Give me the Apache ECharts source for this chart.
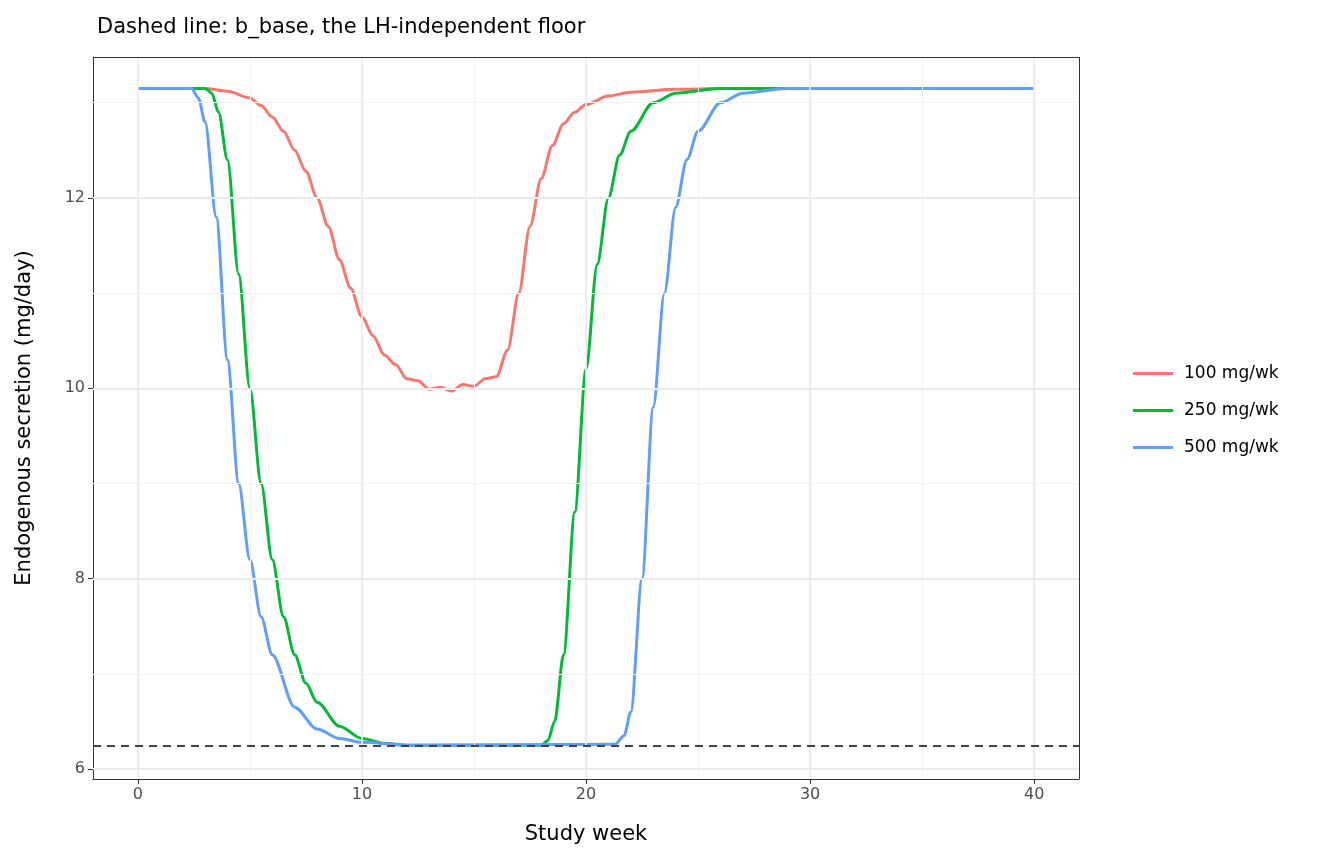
<!DOCTYPE html>
<html><head><meta charset="utf-8">
<script src="https://cdn.jsdelivr.net/npm/echarts@6/dist/echarts.min.js"></script>
<style>body{margin:0}#c{width:1344px;height:864px}</style></head>
<body><div id="c"></div>
<script>
const seriesNames = ['100 mg/wk','250 mg/wk','500 mg/wk'];
const colors = ['#F8766D','#00BA38','#619CFF'];
const floorValue = 6.24;
const xTicks = [0,10,20,30,40];
const xMinor = [5,15,25,35];
const yTicks = [6,8,10,12];
const yMinor = [7,9,11,13];
const red = [[0,13.15],[2,13.15],[3,13.15],[4,13.12],[5,13.05],[5.5,12.97],[6,12.85],[6.5,12.7],[7,12.5],[7.5,12.28],[8,12.0],[8.5,11.7],[9,11.35],[9.5,11.05],[10,10.75],[10.5,10.55],[11,10.35],[11.5,10.25],[12,10.1],[12.5,10.08],[13,9.99],[13.5,10.01],[14,9.97],[14.5,10.04],[15,10.02],[15.5,10.1],[16,10.12],[16.5,10.4],[17,11.0],[17.5,11.7],[18,12.2],[18.5,12.55],[19,12.78],[19.5,12.9],[20,12.98],[21,13.07],[22,13.11],[24,13.14],[26,13.15],[40,13.15]];
const green = [[0,13.15],[3,13.15],[3.3,13.1],[3.6,12.9],[4,12.4],[4.5,11.2],[5,10.0],[5.5,9.0],[6,8.2],[6.5,7.6],[7,7.2],[7.5,6.9],[8,6.7],[9,6.45],[10,6.32],[11,6.27],[12,6.25],[18,6.25],[18.3,6.3],[18.6,6.5],[19,7.2],[19.5,8.7],[20,10.2],[20.5,11.3],[21,12.0],[21.5,12.45],[22,12.7],[23,13.0],[24,13.1],[26,13.15],[40,13.15]];
const blue = [[0,13.15],[2.4,13.15],[2.7,13.05],[3,12.8],[3.5,11.8],[4,10.3],[4.5,9.0],[5,8.2],[5.5,7.6],[6,7.2],[7,6.65],[8,6.42],[9,6.32],[10,6.28],[12,6.25],[21.3,6.26],[21.7,6.35],[22,6.6],[22.5,8.0],[23,9.8],[23.5,11.0],[24,11.9],[24.5,12.4],[25,12.7],[26,13.0],[27,13.1],[29,13.15],[40,13.15]];
const data = [red, green, blue];
const chart = echarts.init(document.getElementById('c'));
const ff = 'DejaVu Sans';
const axisText = {color:'#4d4d4d', fontSize:16, fontFamily:ff};
function ml(vals, key, color, width, z){
  return {type:'line', data:[], z:z||1, markLine:{silent:true, symbol:'none', label:{show:false}, lineStyle:{type:'solid', color:color, width:width}, data:vals.map(v=>({[key]:v}))}};
}
chart.setOption({
  animation:false,
  title:{text:'Dashed line: b_base, the LH-independent floor', left:92, top:12, textStyle:{fontSize:21, fontWeight:'normal', color:'#000', fontFamily:ff}},
  legend:{orient:'vertical', left:1128, top:360, itemGap:20, itemWidth:40, itemHeight:3, icon:'rect', textStyle:{fontSize:17, color:'#000', fontFamily:ff, padding:[0,0,0,6]}, data:seriesNames},
  grid:{left:93, right:265, top:57, bottom:85},
  xAxis:{type:'value', min:-2, max:42, name:'Study week', nameLocation:'middle', nameGap:45, nameTextStyle:{fontSize:21, color:'#000', fontFamily:ff},
    axisLine:{onZero:false, lineStyle:{color:'#333'}}, axisTick:{show:true, customValues:xTicks, lineStyle:{color:'#333'}}, axisLabel:Object.assign({customValues:xTicks}, axisText),
    splitLine:{show:false}},
  yAxis:{type:'value', min:5.895, max:13.48, name:'Endogenous secretion (mg/day)', nameLocation:'middle', nameGap:58, nameTextStyle:{fontSize:21, color:'#000', fontFamily:ff},
    axisLine:{show:true, onZero:false, lineStyle:{color:'#333'}}, axisTick:{show:true, customValues:yTicks, lineStyle:{color:'#333'}}, axisLabel:Object.assign({customValues:yTicks}, axisText),
    splitLine:{show:false}},
  series: [
    ml(yMinor,'yAxis','#f3f3f3',1), ml(xMinor,'xAxis','#f3f3f3',1),
    ml(yTicks,'yAxis','#ebebeb',1.8), ml(xTicks,'xAxis','#ebebeb',1.8)
  ].concat(seriesNames.map((n,i)=>({name:n, type:'line', data:data[i], smooth:0.3, smoothMonotone:'x', showSymbol:false, lineStyle:{width:3, color:colors[i]}, itemStyle:{color:colors[i]}, z:3})))
  .concat([{type:'line', data:[], z:4, markLine:{silent:true, symbol:'none', label:{show:false}, lineStyle:{type:[8,6], color:'#444', width:2}, data:[{yAxis:floorValue}]}},
  ml([13.48],'yAxis','#333',1,5), ml([42],'xAxis','#333',1,5)])
});
</script></body></html>
